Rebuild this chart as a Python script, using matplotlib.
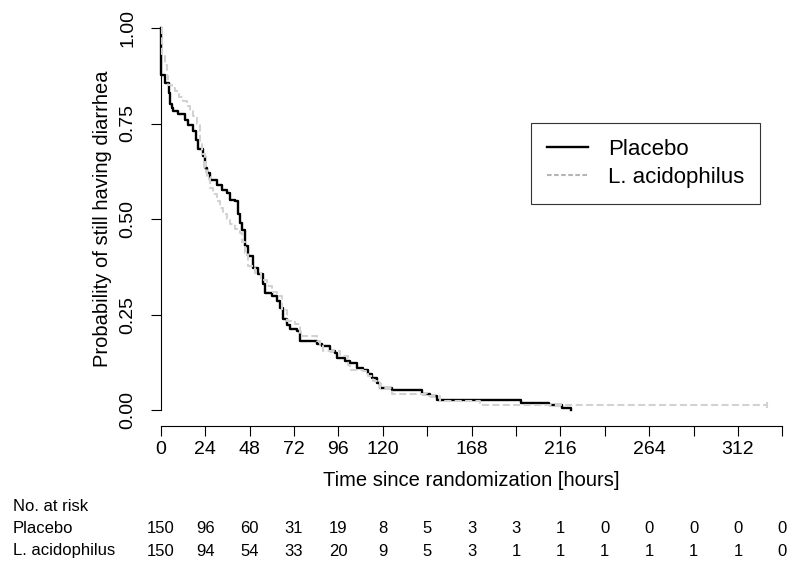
import matplotlib
matplotlib.use("Agg")
import matplotlib.pyplot as plt
from matplotlib.lines import Line2D
from matplotlib.transforms import blended_transform_factory

plt.rcParams['font.family'] = ['Liberation Sans', 'DejaVu Sans']

# Kaplan-Meier curves (hours, survival)
placebo_t = [0, 0.2, 2.3, 4.3, 5.2, 5.9, 6.8, 9.5, 13.1, 14.9,
             17.6, 19.0, 20.3, 23.0, 23.9, 25.0, 26.6, 30.2, 33.0, 35.7,
             37.5, 40.2, 41.9, 42.9, 43.8, 45.5, 47.4, 50.0, 52.8, 55.5,
             56.4, 60.0, 62.7, 64.5, 66.3, 68.0, 70.0, 73.5, 75.3, 84.3,
             87.0, 91.5, 94.2, 95.1, 99.6, 102.3, 105.9, 109.5, 112.0, 114.0,
             116.8, 118.5, 124.9, 141.0, 145.6, 149.2, 195.0, 210.0, 217.0, 222.0]
placebo_s = [1.0, 0.878, 0.857, 0.83, 0.80, 0.791, 0.782, 0.774, 0.76, 0.747,
             0.73, 0.708, 0.682, 0.665, 0.634, 0.62, 0.603, 0.59, 0.577, 0.569,
             0.551, 0.547, 0.512, 0.49, 0.47, 0.43, 0.403, 0.372, 0.355, 0.329,
             0.307, 0.298, 0.285, 0.268, 0.237, 0.222, 0.211, 0.206, 0.18, 0.173,
             0.167, 0.154, 0.15, 0.137, 0.128, 0.124, 0.11, 0.106, 0.095, 0.084,
             0.071, 0.058, 0.052, 0.041, 0.036, 0.027, 0.018, 0.012, 0.006, 0.0]

acid_t = [0, 0.8, 2.3, 3.2, 4.1, 5.9, 7.7, 10.0, 12.2, 14.0,
          15.8, 17.7, 19.5, 21.2, 22.2, 23.9, 25.2, 26.6, 28.5, 30.3,
          32.0, 33.8, 35.6, 37.5, 40.2, 42.9, 44.2, 45.6, 47.4, 51.0,
          54.0, 57.3, 60.0, 62.7, 65.4, 68.1, 72.6, 75.3, 84.3, 86.0,
          87.9, 96.9, 101.4, 102.3, 109.5, 112.0, 114.9, 118.5, 124.9, 143.8,
          151.0, 172.6, 327.6]
acid_s = [1.0, 0.93, 0.904, 0.875, 0.852, 0.843, 0.835, 0.82, 0.808, 0.795,
          0.782, 0.77, 0.75, 0.7, 0.669, 0.634, 0.61, 0.582, 0.565, 0.547,
          0.53, 0.512, 0.5, 0.486, 0.475, 0.464, 0.44, 0.412, 0.376, 0.359,
          0.34, 0.324, 0.31, 0.298, 0.263, 0.232, 0.224, 0.193, 0.18, 0.167,
          0.154, 0.141, 0.119, 0.106, 0.102, 0.088, 0.075, 0.058, 0.041, 0.036,
          0.023, 0.0126, 0.0126]
acid_cens_t = [327.6]
acid_cens_s = [0.0126]

groups = ["Placebo", "L. acidophilus"]
risk_times = [0, 24, 48, 72, 96, 120, 144, 168, 192, 216, 240, 264, 288, 312, 336]
risk_placebo = [150, 96, 60, 31, 19, 8, 5, 3, 3, 1, 0, 0, 0, 0, 0]
risk_acid = [150, 94, 54, 33, 20, 9, 5, 3, 1, 1, 1, 1, 1, 1, 0]
xtick_labels = ["0", "24", "48", "72", "96", "120", "", "168", "", "216", "", "264", "", "312", ""]
yticks = [0, 0.25, 0.5, 0.75, 1.0]
ytick_labels = ["0.00", "0.25", "0.50", "0.75", "1.00"]

W, H = 800, 572
fig = plt.figure(figsize=(W / 100, H / 100), dpi=100)
# axes box in pixels: x 160.7..782.3 (0..336 h), y 28 (S=1) .. 426 (x axis line)
ax = fig.add_axes([160.7 / W, 1 - 426 / H, 621.6 / W, 398 / H])
ax.set_xlim(0, 336)
ax.set_ylim(-16 / 382, 1.0)

grey = '#d2d2d2'
ax.plot(placebo_t, placebo_s, drawstyle='steps-post', color='black', lw=1.7,
        clip_on=False, zorder=2)
ax.plot(acid_t, acid_s, drawstyle='steps-post', color=grey, lw=1.5,
        dashes=(3.4, 1.6), clip_on=False, zorder=3)
ax.plot(acid_cens_t, acid_cens_s, ls='none', marker='|', ms=5, mew=1.5,
        color=grey, clip_on=False, zorder=3)

for s in ['top', 'right']:
    ax.spines[s].set_visible(False)
ax.spines['left'].set_bounds(0, 1)
ax.spines['bottom'].set_bounds(0, 336)
for s in ['left', 'bottom']:
    ax.spines[s].set_linewidth(0.8)

ax.set_xticks(risk_times)
ax.set_xticklabels(xtick_labels, fontsize=14)
ax.set_yticks(yticks)
ax.set_yticklabels(ytick_labels, fontsize=14, rotation=90, va='center', ha='right')
ax.tick_params(axis='x', length=7.5, width=0.8, pad=3)
ax.tick_params(axis='y', length=7.5, width=0.8, pad=10)

ax.set_xlabel("Time since randomization [hours]", fontsize=14.5, labelpad=10)
ax.set_ylabel("Probability of still having diarrhea", fontsize=14.5)
ax.yaxis.set_label_coords((112 - 160.7) / 621.6, (426 - 219) / 398)

handles = [Line2D([], [], color='black', lw=1.7),
           Line2D([], [], color='#b4b4b4', lw=1.5, dashes=(2.2, 1.2))]
ax.legend(handles, groups, loc='upper left', bbox_to_anchor=(531 / W, 1 - 123 / H),
          bbox_transform=fig.transFigure, borderaxespad=0, fontsize=16,
          frameon=True, fancybox=False, edgecolor='#333333', framealpha=1,
          borderpad=0.72, handlelength=1.83, handletextpad=0.9, labelspacing=0.3)
ax.get_legend().get_frame().set_linewidth(0.8)

# number at risk table
tr = blended_transform_factory(ax.transData, fig.transFigure)
fig.text(12.7 / W, 1 - 506.5 / H, "No. at risk", fontsize=12, va='center')
rows = [risk_placebo, risk_acid]
row_y = [528.5, 551]
for name, vals, py in zip(groups, rows, row_y):
    fig.text(12.7 / W, 1 - py / H, name, fontsize=12, va='center')
    for t, v in zip(risk_times, vals):
        ax.text(t, 1 - py / H, str(v), transform=tr, fontsize=12,
                ha='center', va='center', clip_on=False)

fig.savefig("out.png", dpi=100)
